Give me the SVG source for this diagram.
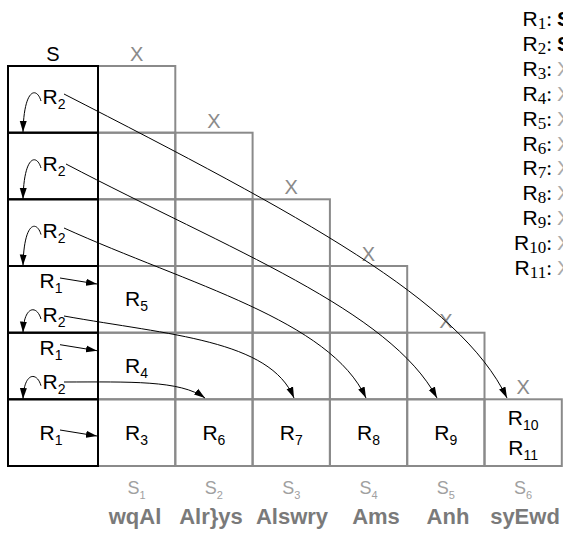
<svg xmlns="http://www.w3.org/2000/svg" width="563" height="539" viewBox="0 0 563 539">
<style>
text{font-family:"Liberation Sans",Arial,sans-serif}
.lab{font-size:21px;fill:#000;text-anchor:middle}
.sub{font-size:14px}
.gcell{fill:none;stroke:#8a8a8a;stroke-width:2}
.bcell{fill:none;stroke:#000;stroke-width:2}
.x{font-size:20px;fill:#8a8a8a;text-anchor:middle}
.hdr{font-size:20px;fill:#000;text-anchor:middle}
.conn{fill:none;stroke:#000;stroke-width:1}
.sn{font-size:18px;fill:#a0a0a0;text-anchor:middle}
.snsub{font-size:11px}
.nm{font-size:22px;font-weight:bold;fill:#7a7a7a;text-anchor:middle}
.leg{font-size:21px;fill:#000;text-anchor:end}
.legsub{font-family:"Liberation Serif","DejaVu Serif",serif;font-size:17px}
.legc{font-family:"Liberation Serif","DejaVu Serif",serif}
.legS{font-size:21px;font-weight:bold;fill:#000}
.legX{font-size:21px;fill:#aaa}
</style>
<defs>
<marker id="ah" markerUnits="userSpaceOnUse" markerWidth="12" markerHeight="8" refX="11" refY="4" orient="auto">
<path d="M0,0.5 L11,4 L0,7.5 z" fill="#000"/>
</marker>
</defs>

<g id="grid">
<rect class="gcell" x="98" y="66" width="77.3" height="66.7"/>
<rect class="gcell" x="98" y="132.7" width="77.3" height="66.6"/>
<rect class="gcell" x="98" y="199.3" width="77.3" height="66.7"/>
<rect class="gcell" x="98" y="266" width="77.3" height="66.7"/>
<rect class="gcell" x="98" y="332.7" width="77.3" height="66.6"/>
<rect class="gcell" x="98" y="399.3" width="77.3" height="66.7"/>
<rect class="gcell" x="175.3" y="132.7" width="77.3" height="66.6"/>
<rect class="gcell" x="175.3" y="199.3" width="77.3" height="66.7"/>
<rect class="gcell" x="175.3" y="266" width="77.3" height="66.7"/>
<rect class="gcell" x="175.3" y="332.7" width="77.3" height="66.6"/>
<rect class="gcell" x="175.3" y="399.3" width="77.3" height="66.7"/>
<rect class="gcell" x="252.6" y="199.3" width="77.3" height="66.7"/>
<rect class="gcell" x="252.6" y="266" width="77.3" height="66.7"/>
<rect class="gcell" x="252.6" y="332.7" width="77.3" height="66.6"/>
<rect class="gcell" x="252.6" y="399.3" width="77.3" height="66.7"/>
<rect class="gcell" x="329.9" y="266" width="77.3" height="66.7"/>
<rect class="gcell" x="329.9" y="332.7" width="77.3" height="66.6"/>
<rect class="gcell" x="329.9" y="399.3" width="77.3" height="66.7"/>
<rect class="gcell" x="407.2" y="332.7" width="77.3" height="66.6"/>
<rect class="gcell" x="407.2" y="399.3" width="77.3" height="66.7"/>
<rect class="gcell" x="484.5" y="399.3" width="77.3" height="66.7"/>
</g>

<g id="headers">
<text class="hdr" x="53" y="61">S</text>
<text class="x" x="136.6" y="61">X</text>
<text class="x" x="213.9" y="127.7">X</text>
<text class="x" x="291.2" y="194.3">X</text>
<text class="x" x="368.5" y="261">X</text>
<text class="x" x="445.8" y="327.7">X</text>
<text class="x" x="523.1" y="394.3">X</text>
</g>

<g id="S-column">
<rect class="bcell" x="8" y="66" width="90" height="66.7"/>
<rect class="bcell" x="8" y="132.7" width="90" height="66.6"/>
<rect class="bcell" x="8" y="199.3" width="90" height="66.7"/>
<rect class="bcell" x="8" y="266" width="90" height="66.7"/>
<rect class="bcell" x="8" y="332.7" width="90" height="66.6"/>
<rect class="bcell" x="8" y="399.3" width="90" height="66.7"/>
</g>

<g id="s-labels">
<text class="lab" x="54" y="104">R<tspan class="sub" dy="5">2</tspan></text>
<text class="lab" x="54" y="171">R<tspan class="sub" dy="5">2</tspan></text>
<text class="lab" x="54" y="237.5">R<tspan class="sub" dy="5">2</tspan></text>
<text class="lab" x="51" y="288">R<tspan class="sub" dy="5">1</tspan></text>
<text class="lab" x="54" y="322">R<tspan class="sub" dy="5">2</tspan></text>
<text class="lab" x="51" y="354.7">R<tspan class="sub" dy="5">1</tspan></text>
<text class="lab" x="54" y="388.7">R<tspan class="sub" dy="5">2</tspan></text>
<text class="lab" x="51" y="440">R<tspan class="sub" dy="5">1</tspan></text>
</g>

<g id="cell-labels">
<text class="lab" x="136.6" y="306">R<tspan class="sub" dy="5">5</tspan></text>
<text class="lab" x="136.6" y="372.7">R<tspan class="sub" dy="5">4</tspan></text>
<text class="lab" x="136.6" y="440">R<tspan class="sub" dy="5">3</tspan></text>
<text class="lab" x="213.9" y="440">R<tspan class="sub" dy="5">6</tspan></text>
<text class="lab" x="291.2" y="440">R<tspan class="sub" dy="5">7</tspan></text>
<text class="lab" x="368.5" y="440">R<tspan class="sub" dy="5">8</tspan></text>
<text class="lab" x="445.8" y="440">R<tspan class="sub" dy="5">9</tspan></text>
<text class="lab" x="523.1" y="425">R<tspan class="sub" dy="5">10</tspan></text>
<text class="lab" x="523.1" y="455">R<tspan class="sub" dy="5">11</tspan></text>
</g>

<g id="connectors">
<path class="conn" marker-end="url(#ah)" d="M41,101 C37,87 24,87 23,132"/>
<path class="conn" marker-end="url(#ah)" d="M41,168 C37,154 24,154 23,199"/>
<path class="conn" marker-end="url(#ah)" d="M41,234.5 C37,220.5 24,220.5 23,265.5"/>
<path class="conn" marker-end="url(#ah)" d="M41,319 C37,305 24,305 23,332.5"/>
<path class="conn" marker-end="url(#ah)" d="M41,385.7 C37,371.7 24,371.7 23,399"/>
<path class="conn" marker-end="url(#ah)" d="M60,278 L97,284"/>
<path class="conn" marker-end="url(#ah)" d="M60,344.7 L97,350.7"/>
<path class="conn" marker-end="url(#ah)" d="M60,430 L97,436"/>
<path class="conn" marker-end="url(#ah)" d="M64,94 C300,215 460,300 507,398"/>
<path class="conn" marker-end="url(#ah)" d="M66,164 C230,250 390,310 437,398"/>
<path class="conn" marker-end="url(#ah)" d="M64,228 C190,285 330,320 366,398"/>
<path class="conn" marker-end="url(#ah)" d="M64,316 C170,335 270,340 294,398"/>
<path class="conn" marker-end="url(#ah)" d="M64,382 C130,382 180,380 205,398"/>
</g>

<g id="bottom-labels">
<text class="sn" x="136.6" y="494">S<tspan class="snsub" dy="5">1</tspan></text>
<text class="sn" x="213.9" y="494">S<tspan class="snsub" dy="5">2</tspan></text>
<text class="sn" x="291.2" y="494">S<tspan class="snsub" dy="5">3</tspan></text>
<text class="sn" x="368.5" y="494">S<tspan class="snsub" dy="5">4</tspan></text>
<text class="sn" x="445.8" y="494">S<tspan class="snsub" dy="5">5</tspan></text>
<text class="sn" x="523.1" y="494">S<tspan class="snsub" dy="5">6</tspan></text>
<text class="nm" x="135" y="524">wqAl</text>
<text class="nm" x="211" y="524">Alr}ys</text>
<text class="nm" x="292" y="524">Alswry</text>
<text class="nm" x="376" y="524">Ams</text>
<text class="nm" x="448" y="524">Anh</text>
<text class="nm" x="525" y="524">syEwd</text>
</g>

<g id="legend">
<text class="leg" x="552" y="26">R<tspan class="legsub" dy="3">1</tspan><tspan class="legc" dy="-3">:</tspan></text>
<text class="legS" x="557" y="26">S</text>
<text class="leg" x="552" y="50.9">R<tspan class="legsub" dy="3">2</tspan><tspan class="legc" dy="-3">:</tspan></text>
<text class="legS" x="557" y="50.9">S</text>
<text class="leg" x="552" y="75.8">R<tspan class="legsub" dy="3">3</tspan><tspan class="legc" dy="-3">:</tspan></text>
<text class="legX" x="557" y="75.8">X</text>
<text class="leg" x="552" y="100.7">R<tspan class="legsub" dy="3">4</tspan><tspan class="legc" dy="-3">:</tspan></text>
<text class="legX" x="557" y="100.7">X</text>
<text class="leg" x="552" y="125.6">R<tspan class="legsub" dy="3">5</tspan><tspan class="legc" dy="-3">:</tspan></text>
<text class="legX" x="557" y="125.6">X</text>
<text class="leg" x="552" y="150.5">R<tspan class="legsub" dy="3">6</tspan><tspan class="legc" dy="-3">:</tspan></text>
<text class="legX" x="557" y="150.5">X</text>
<text class="leg" x="552" y="175.4">R<tspan class="legsub" dy="3">7</tspan><tspan class="legc" dy="-3">:</tspan></text>
<text class="legX" x="557" y="175.4">X</text>
<text class="leg" x="552" y="200.3">R<tspan class="legsub" dy="3">8</tspan><tspan class="legc" dy="-3">:</tspan></text>
<text class="legX" x="557" y="200.3">X</text>
<text class="leg" x="552" y="225.2">R<tspan class="legsub" dy="3">9</tspan><tspan class="legc" dy="-3">:</tspan></text>
<text class="legX" x="557" y="225.2">X</text>
<text class="leg" x="552" y="250.1">R<tspan class="legsub" dy="3">10</tspan><tspan class="legc" dy="-3">:</tspan></text>
<text class="legX" x="557" y="250.1">X</text>
<text class="leg" x="552" y="275">R<tspan class="legsub" dy="3">11</tspan><tspan class="legc" dy="-3">:</tspan></text>
<text class="legX" x="557" y="275">X</text>
</g>
</svg>
